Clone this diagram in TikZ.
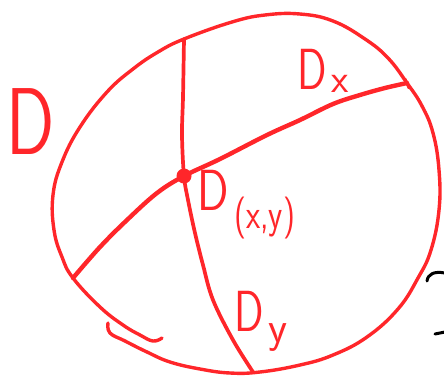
\documentclass[tikz,border=0pt]{standalone}
\definecolor{pen}{RGB}{255,38,42}
\begin{document}
\begin{tikzpicture}[x=1pt,y=-1pt,
  stroke/.style={draw=pen,line width=3.4pt,line cap=round,line join=round},
  thick stroke/.style={stroke,line width=4.4pt},
  ink/.style={draw=black,line width=3pt,line cap=round},
  lbl/.style={text=pen,inner sep=0pt,anchor=base west}]
\useasboundingbox (0,0) rectangle (444,376);
% named points
\coordinate (O) at (184,176);
\coordinate (T) at (184,39);
\coordinate (B) at (253,372);
\coordinate (L) at (73,278);
\coordinate (R) at (407,83);
% outline (hand-drawn circle, open at the lower left)
\draw[stroke] plot[smooth,tension=0.7] coordinates {
  (108,323) (110,333) (125,341) (147,352) (170,362) (200,369) (230,373) (260,372)
  (300,365) (333,355) (367,337) (398,309) (418,278) (431,250)
  (439,210) (439,170) (433,133) (422,106) (407,83) (388,58) (365,39)
  (333,21) (300,14) (265,15) (232,22) (184,39)
  (158,52) (133,69) (107,92) (80,127) (62,162) (53,195) (54,230) (62,257) (73,278)
  (100,307) (123,325) (140,335) (153,341) (162,338)};
% vertical chord
\draw[stroke,line width=3.7pt] plot[smooth,tension=0.6] coordinates {
  (T) (183,97) (182,135) (O) (188,200) (195,233) (203,265) (213,300) (233,340) (B)};
% diagonal chord
\draw[thick stroke] plot[smooth,tension=0.6] coordinates {
  (L) (100,247) (127,220) (157,193) (O) (220,159) (267,135)
  (300,120) (333,104) (360,95) (385,88) (R)};
\draw[stroke,line width=2.8pt] (405,79) -- (409,88);
% centre point
\fill[pen] (O) circle (7.5);
% labels
\node[lbl,font=\sffamily\fontsize{95}{95}\selectfont] (lD) at (6,154) {\scalebox{0.75}[1]{D}};
\node[lbl,font=\sffamily\fontsize{58}{58}\selectfont] (lDx) at (297,89) {\scalebox{0.75}[1]{D}};
\node[lbl,font=\sffamily\fontsize{40}{40}\selectfont] (lDxs) at (331,92) {x};
\node[lbl,font=\sffamily\fontsize{58}{58}\selectfont] (lDxy) at (197,210) {\scalebox{0.8}[1]{D}};
\node[lbl,font=\sffamily\fontsize{42}{42}\selectfont] (lDxys) at (234,228) {\scalebox{0.78}[1]{(x,y)}};
\node[lbl,font=\sffamily\fontsize{58}{58}\selectfont] (lDy) at (234,331) {\scalebox{0.75}[1]{D}};
\node[lbl,font=\sffamily\fontsize{44}{44}\selectfont] (lDys) at (268,342) {y};
% stray black marks at the right edge
\draw[ink] (427,281) .. controls (428,274) and (434,271) .. (445,273);
\draw[ink] (435,334) -- (445,332);
\end{tikzpicture}
\end{document}
